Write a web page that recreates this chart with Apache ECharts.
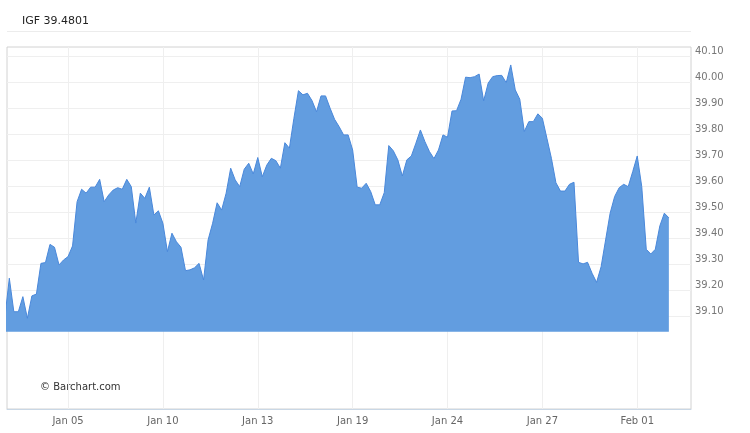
<!DOCTYPE html>
<html>
<head>
<meta charset="utf-8">
<script src="https://cdn.jsdelivr.net/npm/echarts@6/dist/echarts.min.js"></script>
<style>
  html, body { margin: 0; padding: 0; background: #fff; }
  #chart { width: 750px; height: 433px; }
</style>
</head>
<body>
<div id="chart"></div>
<script>
const symbol = 'IGF'
const lastPrice = 39.4801

// hourly closes, Jan 03 .. Feb 01
const prices = [
  39.095, 39.248, 39.119, 39.119, 39.177, 39.094, 39.180, 39.187, 39.305, 39.308,
  39.378, 39.367, 39.299, 39.318, 39.331, 39.372, 39.542, 39.590, 39.575, 39.598,
  39.598, 39.628, 39.542, 39.568, 39.587, 39.596, 39.590, 39.628, 39.600, 39.460,
  39.575, 39.555, 39.598, 39.491, 39.507, 39.459, 39.350, 39.421, 39.388, 39.367,
  39.277, 39.280, 39.288, 39.305, 39.241, 39.395, 39.459, 39.538, 39.510, 39.575,
  39.671, 39.626, 39.600, 39.667, 39.690, 39.649, 39.712, 39.638, 39.683, 39.709,
  39.700, 39.671, 39.769, 39.748, 39.863, 39.969, 39.953, 39.959, 39.931, 39.888,
  39.949, 39.949, 39.902, 39.859, 39.831, 39.799, 39.799, 39.741, 39.598, 39.594,
  39.613, 39.581, 39.530, 39.530, 39.577, 39.758, 39.738, 39.703, 39.641, 39.703,
  39.718, 39.767, 39.818, 39.773, 39.735, 39.708, 39.741, 39.799, 39.790, 39.891,
  39.892, 39.936, 40.021, 40.019, 40.023, 40.033, 39.930, 39.998, 40.023, 40.027,
  40.028, 40.000, 40.068, 39.972, 39.936, 39.812, 39.850, 39.850, 39.880, 39.863,
  39.786, 39.709, 39.615, 39.583, 39.583, 39.609, 39.617, 39.309, 39.303, 39.309,
  39.267, 39.232, 39.292, 39.395, 39.498, 39.562, 39.596, 39.609, 39.600, 39.658,
  39.718, 39.600, 39.359, 39.341, 39.359, 39.449, 39.498, 39.4801
]

const dateLabels = ['Jan 05', 'Jan 10', 'Jan 13', 'Jan 19', 'Jan 24', 'Jan 27', 'Feb 01']
const dateIndex = [14, 35, 56, 77, 98, 119, 140]
const priceTicks = [39.1, 39.2, 39.3, 39.4, 39.5, 39.6, 39.7, 39.8, 39.9, 40.0, 40.1]

const chart = echarts.init(document.getElementById('chart'))

const option = {
  animation: false,
  textStyle: { fontFamily: 'DejaVu Sans' },
  title: {
    text: symbol + ' ' + lastPrice.toFixed(4),
    left: 22,
    top: 16,
    padding: 0,
    textStyle: { fontSize: 11, fontWeight: 'normal', color: '#222', fontFamily: 'DejaVu Sans' }
  },
  graphic: [
    {
      type: 'line',
      shape: { x1: 7, y1: 31.5, x2: 691, y2: 31.5 },
      style: { stroke: '#ececec', lineWidth: 1 }
    },
    {
      type: 'text',
      left: 40,
      top: 382,
      style: { text: '\u00a9 Barchart.com', fontSize: 10, fill: '#333', fontFamily: 'DejaVu Sans' }
    }
  ],
  grid: {
    left: 7,
    right: 59,
    top: 47,
    bottom: 24,
    show: true,
    borderColor: '#d2d2d2',
    borderWidth: 1
  },
  xAxis: {
    type: 'value',
    min: 0.487,
    max: 151.9,
    axisLine: { show: true, onZero: false, lineStyle: { color: '#c9d7e5' } },
    axisTick: { show: false, customValues: dateIndex },
    axisLabel: {
      customValues: dateIndex,
      color: '#666',
      fontSize: 10,
      margin: 7,
      formatter: (v) => dateLabels[dateIndex.indexOf(v)] || ''
    },
    splitLine: { show: true, lineStyle: { color: '#efefef' } }
  },
  yAxis: {
    type: 'value',
    position: 'right',
    min: 38.745,
    max: 40.137,
    axisLine: { show: false },
    axisTick: { show: false, customValues: priceTicks },
    axisLabel: {
      customValues: priceTicks,
      color: '#777',
      fontSize: 10,
      margin: 4,
      verticalAlign: 'bottom',
      formatter: (v) => v.toFixed(2)
    },
    splitLine: { show: true, lineStyle: { color: '#efefef' } }
  },
  series: [
    {
      type: 'line',
      data: prices.map((p, i) => [i, p]),
      showSymbol: false,
      lineStyle: { color: '#4a88da', width: 1 },
      areaStyle: { color: '#629de0', opacity: 1, origin: 39.042 }
    }
  ]
}

chart.setOption(option)
</script>
</body>
</html>
